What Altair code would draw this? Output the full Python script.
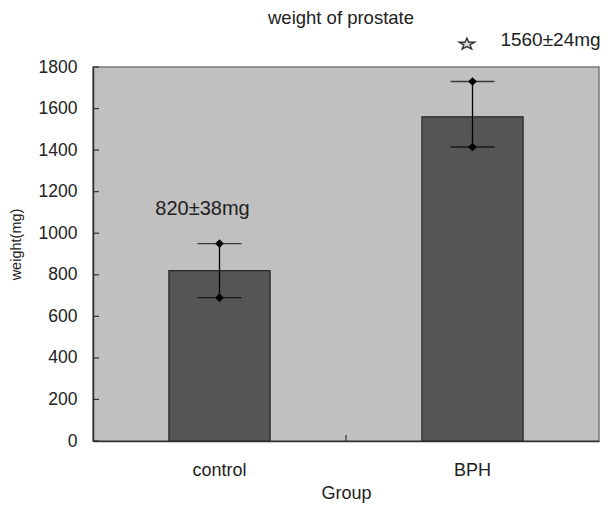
import altair as alt
import pandas as pd

# ---- data ----
groups = ["control", "BPH"]
means = [820, 1560]
err_low = [690, 1415]
err_high = [950, 1730]
y_ticks = [0, 200, 400, 600, 800, 1000, 1200, 1400, 1600, 1800]
ann_control = "820±38mg"
ann_bph = "1560±24mg"
ann_control_y = [1115]
ann_bph_y = [1930]
star_y = [1910]

FONT = "Liberation Sans"
W, H = 506, 374

df = pd.DataFrame({"group": groups, "mean": means, "lo": err_low, "hi": err_high})

xscale = alt.Scale(domain=groups, paddingInner=0.6, paddingOuter=0.3)
yscale = alt.Scale(domain=[0, 1800], nice=False, zero=True)

x_enc = alt.X(
    "group:N",
    scale=xscale,
    sort=groups,
    axis=alt.Axis(
        title="Group",
        labelAngle=0,
        ticks=False,
        tickSize=0,
        labelPadding=20,
        labelFontSize=18,
        labelFont=FONT,
        labelColor="#222222",
        titleFont=FONT,
        titleFontSize=18,
        titleFontWeight="normal",
        titleColor="#222222",
        titleY=52,
        titleBaseline="middle",
        domainColor="#333333",
        domainWidth=1.5,
    ),
)
y_enc = alt.Y(
    "mean:Q",
    scale=yscale,
    axis=alt.Axis(
        values=y_ticks,
        format="d",
        title="weight(mg)",
        ticks=False,
        tickSize=0,
        grid=False,
        labelPadding=16,
        labelFontSize=17.5,
        labelFont=FONT,
        labelColor="#222222",
        titleFont=FONT,
        titleFontSize=14.5,
        titleFontWeight="normal",
        titleColor="#222222",
        titleX=-77,
        titleY=177,
        titleAlign="center",
        titleBaseline="middle",
        domainColor="#333333",
        domainWidth=1.5,
    ),
)

base = alt.Chart(df)

bars = base.mark_bar(color="#555555", stroke="#262626", strokeWidth=1.2).encode(
    x=x_enc, y=y_enc
)

err_rule = base.mark_rule(color="black", strokeWidth=1.3).encode(
    x=alt.X("group:N", scale=xscale, sort=groups),
    y=alt.Y("lo:Q", scale=yscale),
    y2="hi:Q",
)

err_long = base.transform_fold(["lo", "hi"], as_=["end", "val"])
caps = err_long.mark_tick(color="black", size=44, thickness=1.4).encode(
    x=alt.X("group:N", scale=xscale, sort=groups),
    y=alt.Y("val:Q", scale=yscale),
)
diamonds = err_long.mark_point(shape="diamond", filled=True, size=75, color="black", opacity=1).encode(
    x=alt.X("group:N", scale=xscale, sort=groups),
    y=alt.Y("val:Q", scale=yscale),
)

# inward y ticks
tick_df = pd.DataFrame({"v": y_ticks})
y_tick_marks = alt.Chart(tick_df).mark_rule(color="#333333", strokeWidth=1.2).encode(
    y=alt.Y("v:Q", scale=yscale),
    x=alt.value(0),
    x2=alt.value(6),
)
x_tick_marks = alt.Chart(pd.DataFrame({"g": [0]})).mark_rule(color="#333333", strokeWidth=1.2).encode(
    x=alt.value(W / 2),
    y=alt.value(H),
    y2=alt.value(H - 6),
)

ann1 = alt.Chart(pd.DataFrame({"group": ["control"], "y": ann_control_y, "t": [ann_control]})).mark_text(
    font=FONT, fontSize=20, color="#222222", dx=-17, baseline="middle", align="center"
).encode(
    x=alt.X("group:N", scale=xscale, sort=groups),
    y=alt.Y("y:Q", scale=yscale),
    text="t:N",
)
ann2 = alt.Chart(pd.DataFrame({"group": ["BPH"], "y": ann_bph_y, "t": [ann_bph]})).mark_text(
    font=FONT, fontSize=19, color="#222222", dx=78, baseline="middle", align="center"
).encode(
    x=alt.X("group:N", scale=xscale, sort=groups),
    y=alt.Y("y:Q", scale=yscale),
    text="t:N",
)

star_path = ("M0,-0.75L0.235,-0.243L0.951,-0.232L0.38,0.093L0.588,0.607L0,0.3"
             "L-0.588,0.607L-0.38,0.093L-0.951,-0.232L-0.235,-0.243Z")
star = alt.Chart(pd.DataFrame({"group": ["BPH"], "y": star_y})).mark_point(
    shape=star_path, size=260, filled=True, fill="#d8d8d8", stroke="#333333", strokeWidth=1.4, opacity=1
).encode(
    x=alt.X("group:N", scale=xscale, sort=groups),
    xOffset=alt.value(45),
    y=alt.Y("y:Q", scale=yscale),
)

chart = (
    alt.layer(bars, err_rule, caps, diamonds, y_tick_marks, x_tick_marks, ann1, ann2, star)
    .properties(
        width=W,
        height=H,
        autosize=alt.AutoSizeParams(type="none"),
        padding={"left": 85, "top": 59, "right": 4, "bottom": 63},
        title=alt.TitleParams(
            "weight of prostate",
            font=FONT,
            fontSize=18.5,
            fontWeight="normal",
            color="#222222",
            dx=-5,
            offset=3,
        ),
    )
    .configure_view(fill="#c0c0c0", stroke="#7a7a7a", strokeWidth=1.5)
)

chart.save("out.html", embed_options={"renderer": "svg", "actions": False})
